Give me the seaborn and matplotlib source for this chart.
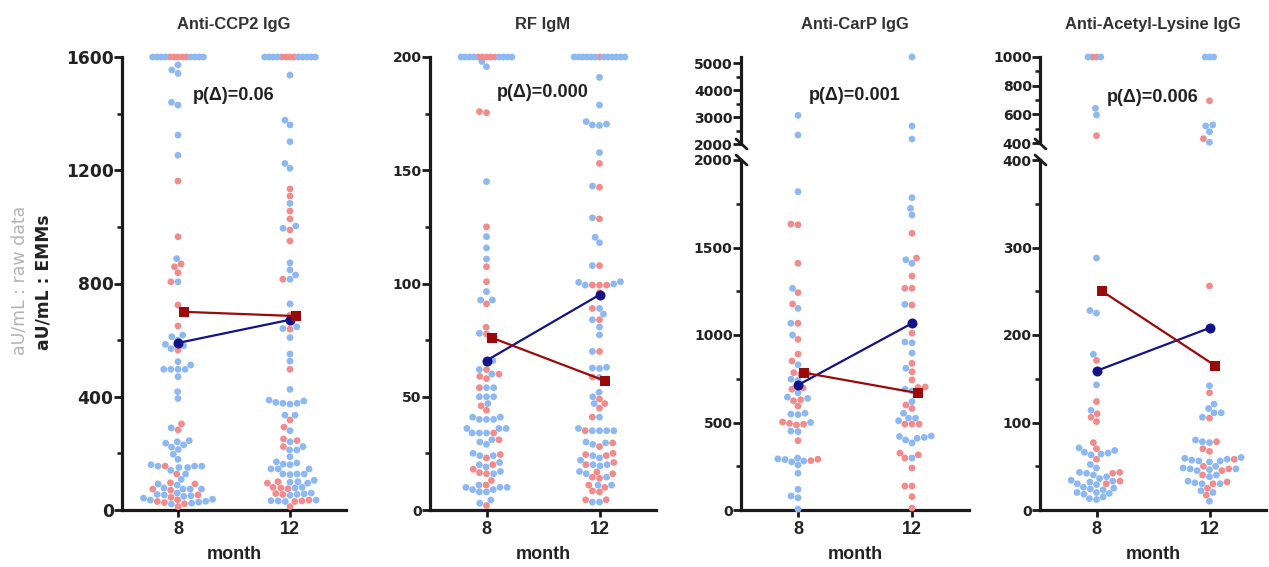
import numpy as np
import pandas as pd
import matplotlib
matplotlib.use("Agg")
import matplotlib.pyplot as plt
from matplotlib.lines import Line2D
from matplotlib.ticker import MultipleLocator
import seaborn as sns

sns.set_theme(style="ticks")
plt.rcParams['font.family'] = ['DejaVu Sans']

# ---------------- data ----------------
months = ["8", "12"]
groups = ["A", "B"]          # A = blue, B = red
titles = ["Anti-CCP2 IgG", "RF IgM", "Anti-CarP IgG", "Anti-Acetyl-Lysine IgG"]
p_labels = ["p(\u0394)=0.06", "p(\u0394)=0.000", "p(\u0394)=0.001", "p(\u0394)=0.006"]

# Panel 1: Anti-CCP2 IgG (capped at 1600)
ccp_b8 = [1600]*8 + [1572, 1554, 1542, 1440, 1430, 1324, 1253, 888, 806, 618, 612, 600, 585, 580, 570,
                     524, 512, 497, 497, 497, 497, 471, 418, 394, 290, 245, 241, 236, 230, 222, 214, 197,
                     179, 160, 155, 155, 155, 150, 150, 140, 127, 108, 92, 88, 78, 74, 74, 74, 60, 55, 53,
                     50, 48, 42, 38, 35, 31, 28, 24, 21]
ccp_r8 = [1600]*5 + [1162, 965, 869, 859, 838, 806, 724, 650, 565, 304, 283, 155, 127, 96, 92, 74, 70,
                     53, 45, 36, 30, 26, 22, 12]
ccp_b12 = [1600]*9 + [1536, 1377, 1360, 1301, 1224, 1207, 1083, 1003, 995, 873, 848, 830, 815, 728, 647,
                      641, 609, 551, 526, 426, 388, 385, 380, 377, 377, 374, 335, 335, 280, 241, 224, 212,
                      212, 188, 170, 166, 162, 160, 145, 145, 145, 127, 127, 127, 125, 105, 100, 98, 95,
                      80, 78, 60, 57, 55, 52, 35, 33, 32, 30]
ccp_r12 = [1600]*4 + [1134, 1109, 1056, 1028, 989, 950, 815, 688, 639, 497, 318, 293, 251, 245, 224,
                      100, 95, 80, 78, 75, 58, 55, 35, 32, 30, 12]
ccp_emm_b = [590, 672]
ccp_emm_r = [700, 685]
ccp_cap = 1600

# Panel 2: RF IgM (capped at 200)
rf_b8 = [200]*8 + [198, 195.7, 145, 120.7, 115.7, 110.8, 96.4, 92.7, 92.7, 78, 66, 62, 60, 54, 54, 50,
                   50, 50, 47, 41, 41, 40, 40, 40, 36, 36, 36, 34, 34, 34, 31, 30, 29, 25, 24, 24, 21,
                   20, 19, 17, 16, 10, 10, 9, 9, 8, 8, 10, 11, 4.4, 3]
rf_r8 = [200]*5 + [175.4, 175.9, 125, 107.4, 100.8, 91, 80.7, 77.7, 65, 62, 60, 58, 59, 54, 46, 44, 34,
                   31, 24.5, 23, 20, 18, 16.5, 16, 13, 11, 2]
rf_b12 = [200]*12 + [191, 178.8, 170.4, 169.8, 170, 171.5, 157.8, 143, 129, 120.4, 118, 107.9, 100.8,
                     99.8, 99.3, 100.5, 89, 86.5, 84, 80.8, 77.3, 70, 63, 62.5, 62.7, 58.5, 52, 50, 47,
                     41, 35, 35, 35, 35, 36, 30, 29.6, 29, 24, 23, 22, 20, 20, 19.5, 17, 16, 14.5, 11,
                     11, 3.5, 3.5]
rf_r12 = [200] + [153, 142.5, 128.5, 107.9, 99.3, 99.3, 99.3, 96, 89, 84, 70, 58.7, 49, 47, 45, 41, 35,
                  29.6, 28, 25, 24, 24.5, 20, 21, 16.8, 16, 14.5, 14, 11, 10, 8.4, 8, 4.5, 4.5]
rf_emm_b = [66, 95]
rf_emm_r = [76, 57]
rf_cap = 200

# Panel 3: Anti-CarP IgG (broken axis at 2000)
carp_b8 = [3062, 2333, 1819, 1267, 1152, 1067, 1000, 830, 748, 740, 670, 645, 638, 553, 548, 545, 500,
           451, 448, 297, 292, 288, 280, 275, 257, 210, 118, 80, 70, 5]
carp_r8 = [1634, 1630, 1410, 1242, 1177, 1067, 975, 891, 851, 785, 780, 776, 697, 690, 630, 624, 594,
           503, 495, 490, 486, 396, 290, 282]
carp_b12 = [5233, 2667, 2185, 1785, 1724, 1686, 1430, 1410, 1175, 960, 955, 897, 810, 690, 680, 619, 553,
            525, 525, 510, 420, 410, 423, 400, 415, 383, 297]
carp_r12 = [1581, 1440, 1337, 1267, 1267, 1171, 1010, 838, 790, 743, 703, 700, 600, 580, 491, 491, 491,
            325, 315, 297, 240, 137, 137, 76, 11]
carp_emm_b = [714, 1067]
carp_emm_r = [785, 668]

# Panel 4: Anti-Acetyl-Lysine IgG (broken axis at 400, capped at 1000)
ack_b8 = [1000, 1000, 642, 595, 288, 228, 225, 178, 143, 114, 71, 68, 66, 65, 64, 63, 52, 48, 43, 42, 40,
          38, 36, 34, 33, 32, 30, 29, 26, 25, 24, 23, 20, 20, 19, 18, 15, 13, 12]
ack_r8 = [1000, 1000, 451, 171, 124, 110, 106, 101, 77, 70, 58, 43, 42, 33, 30]
ack_b12 = [1000, 1000, 1000, 526, 519, 479, 405, 142, 121, 116, 111, 111, 106, 80, 78, 77, 60, 59, 58,
           57, 56, 56, 55, 50, 48, 47, 47, 46, 45, 40, 38, 33, 31, 30, 30, 22, 20, 10]
ack_r12 = [695, 430, 256, 134, 105, 78, 70, 67, 58, 50, 47, 45, 40, 32, 30, 25, 17]
ack_emm_b = [159, 208]
ack_emm_r = [250, 165]
ack_cap = 1000

# ---------------- style ----------------
BLUE = "#8DB8F2"
RED = "#F28C8C"
NAVY = "#12128A"
DRED = "#9A0A0A"
INK = "#1a1a1a"
DOT = 4.9          # marker diameter (pt)
CAP_DOT = 2.9      # spacing used for the overlapping capped rows

W, H = 1269, 567
fig = plt.figure(figsize=(W / 100, H / 100), dpi=100)
capped_sets = []


def px_axes(left, top, right, bottom):
    return fig.add_axes([left / W, 1 - bottom / H, (right - left) / W, (bottom - top) / H])


def make_df(b8, r8, b12, r12):
    rows = []
    for m, b, r in (("8", b8, r8), ("12", b12, r12)):
        rows += [(m, v, "A") for v in b]
        rows += [(m, v, "B") for v in r]
    return pd.DataFrame(rows, columns=["month", "value", "group"])


def draw_swarm(ax, df, lo, hi, cap=None):
    sub = df[(df["value"] > lo) & (df["value"] <= hi)]
    main = sub if cap is None else sub[sub["value"] < cap]
    n0 = len(ax.collections)
    sns.swarmplot(data=main, x="month", y="value", hue="group", order=months, hue_order=groups,
                  palette=[BLUE, RED], size=DOT, linewidth=0, legend=False, ax=ax,
                  warn_thresh=1.0)
    for c in ax.collections[n0:]:
        c.set_clip_on(False)
    if cap is not None:
        top = sub[sub["value"] >= cap].sort_values("group", ascending=False)
        n1 = len(ax.collections)
        sns.swarmplot(data=top, x="month", y="value", hue="group", order=months,
                      hue_order=groups[::-1], palette=[RED, BLUE], size=CAP_DOT, linewidth=0,
                      legend=False, ax=ax, warn_thresh=1.0)
        for c in ax.collections[n1:]:
            c.set_clip_on(False)
            capped_sets.append(c)


def draw_emm(ax, eb, er):
    x = np.arange(len(months))
    sns.lineplot(x=x, y=eb, color=NAVY, marker="o", markersize=7.2, markeredgewidth=0,
                 linewidth=1.6, ax=ax, zorder=5)
    sns.lineplot(x=x + 0.05, y=er, color=DRED, marker="s", markersize=7.0, markeredgewidth=0,
                 linewidth=1.6, ax=ax, zorder=5)


def style_axes(ax, ylim, major, minor, ysize, bottom=True):
    ax.set_xlim(-0.5, 1.5)
    ax.set_ylim(*ylim)
    for s in ("top", "right"):
        ax.spines[s].set_visible(False)
    ax.spines["left"].set_linewidth(2.3)
    ax.spines["left"].set_color(INK)
    ax.spines["bottom"].set_linewidth(2.3)
    ax.spines["bottom"].set_color(INK)
    ax.set_yticks(major)
    ax.set_yticklabels([str(t) for t in major], fontweight="bold", fontsize=ysize, color="#222")
    ax.yaxis.set_minor_locator(MultipleLocator(minor))
    ax.tick_params(axis="y", which="major", length=5.5, width=2, pad=0.5, colors=INK, labelcolor="#222")
    ax.tick_params(axis="y", which="minor", length=3.3, width=1.8, colors=INK)
    ax.set_ylabel("")
    if bottom:
        ax.set_xticks(range(len(months)))
        ax.set_xticklabels(months, fontweight="bold", fontsize=13, color="#222",
                           family="Liberation Sans")
        ax.tick_params(axis="x", length=5, width=2, pad=3, colors=INK, labelcolor="#222")
        ax.set_xlabel("month", fontweight="bold", fontsize=13, family="Liberation Sans",
                      color="#222", labelpad=6)
    else:
        ax.spines["bottom"].set_visible(False)
        ax.set_xticks([])
        ax.set_xlabel("")
    ax.set_facecolor("none")


def break_marks(spine_x):
    for yc in (144, 160):
        fig.add_artist(Line2D([(spine_x - 5) / W, (spine_x + 6) / W],
                              [1 - (yc - 5) / H, 1 - (yc + 5) / H],
                              color=INK, linewidth=2.0))


# ---------------- panel 1 ----------------
df1 = make_df(ccp_b8, ccp_r8, ccp_b12, ccp_r12)
ax1 = px_axes(122, 57, 346, 510)
draw_swarm(ax1, df1, -np.inf, np.inf, cap=ccp_cap)
draw_emm(ax1, ccp_emm_b, ccp_emm_r)
style_axes(ax1, (0, 1600), [0, 400, 800, 1200, 1600], 200, 12.3)

# ---------------- panel 2 ----------------
df2 = make_df(rf_b8, rf_r8, rf_b12, rf_r12)
ax2 = px_axes(430, 57, 656, 510)
draw_swarm(ax2, df2, -np.inf, np.inf, cap=rf_cap)
draw_emm(ax2, rf_emm_b, rf_emm_r)
style_axes(ax2, (0, 200), [0, 50, 100, 150, 200], 25, 10)

# ---------------- panel 3 (broken) ----------------
df3 = make_df(carp_b8, carp_r8, carp_b12, carp_r12)
ax3l = px_axes(741, 160, 969, 510)
ax3u = px_axes(741, 57, 969, 144)
draw_swarm(ax3l, df3, -np.inf, 2000)
draw_emm(ax3l, carp_emm_b, carp_emm_r)
draw_swarm(ax3u, df3, 2000, np.inf)
style_axes(ax3l, (0, 2000), [0, 500, 1000, 1500, 2000], 250, 10)
style_axes(ax3u, (2000, 5230), [2000, 3000, 4000, 5000], 500, 10, bottom=False)
break_marks(741)

# ---------------- panel 4 (broken) ----------------
df4 = make_df(ack_b8, ack_r8, ack_b12, ack_r12)
ax4l = px_axes(1040, 160, 1266, 510)
ax4u = px_axes(1040, 57, 1266, 143)
draw_swarm(ax4l, df4, -np.inf, 400)
draw_emm(ax4l, ack_emm_b, ack_emm_r)
draw_swarm(ax4u, df4, 400, np.inf, cap=ack_cap)
style_axes(ax4l, (0, 400), [0, 100, 200, 300, 400], 50, 10)
style_axes(ax4u, (400, 1000), [400, 600, 800, 1000], 100, 10, bottom=False)
break_marks(1040)

# ---------------- titles, p-values, y labels ----------------
centers = [234, 543, 855, 1153]
p_y = [96, 93, 95, 98]
for cx, t, p, py in zip(centers, titles, p_labels, p_y):
    fig.text(cx / W, 1 - 24 / H, t, ha="center", va="center", fontsize=11.9,
             fontweight="bold", family="Liberation Sans", color="#333")
    fig.text(cx / W, 1 - py / H, p, ha="center", va="center", fontsize=13,
             fontweight="bold", family="Liberation Sans", color="#222")

fig.text(20 / W, 1 - 280 / H, "aU/mL : raw data", rotation=90, ha="center", va="center",
         fontsize=12.5, color="#b4b4b4")
fig.text(43 / W, 1 - 282 / H, "aU/mL : EMMs", rotation=90, ha="center", va="center",
         fontsize=12.3, fontweight="bold", color="#222")

# Capped rows: lay out the swarm with tight spacing, freeze it, then show full-size
# overlapping dots (as in the original, where capped values form a dense band).
fig.canvas.draw()
for c in capped_sets:
    if "draw" in c.__dict__:
        del c.draw
    c.set_sizes([DOT ** 2])

fig.savefig("out.png", dpi=100, facecolor="white")
